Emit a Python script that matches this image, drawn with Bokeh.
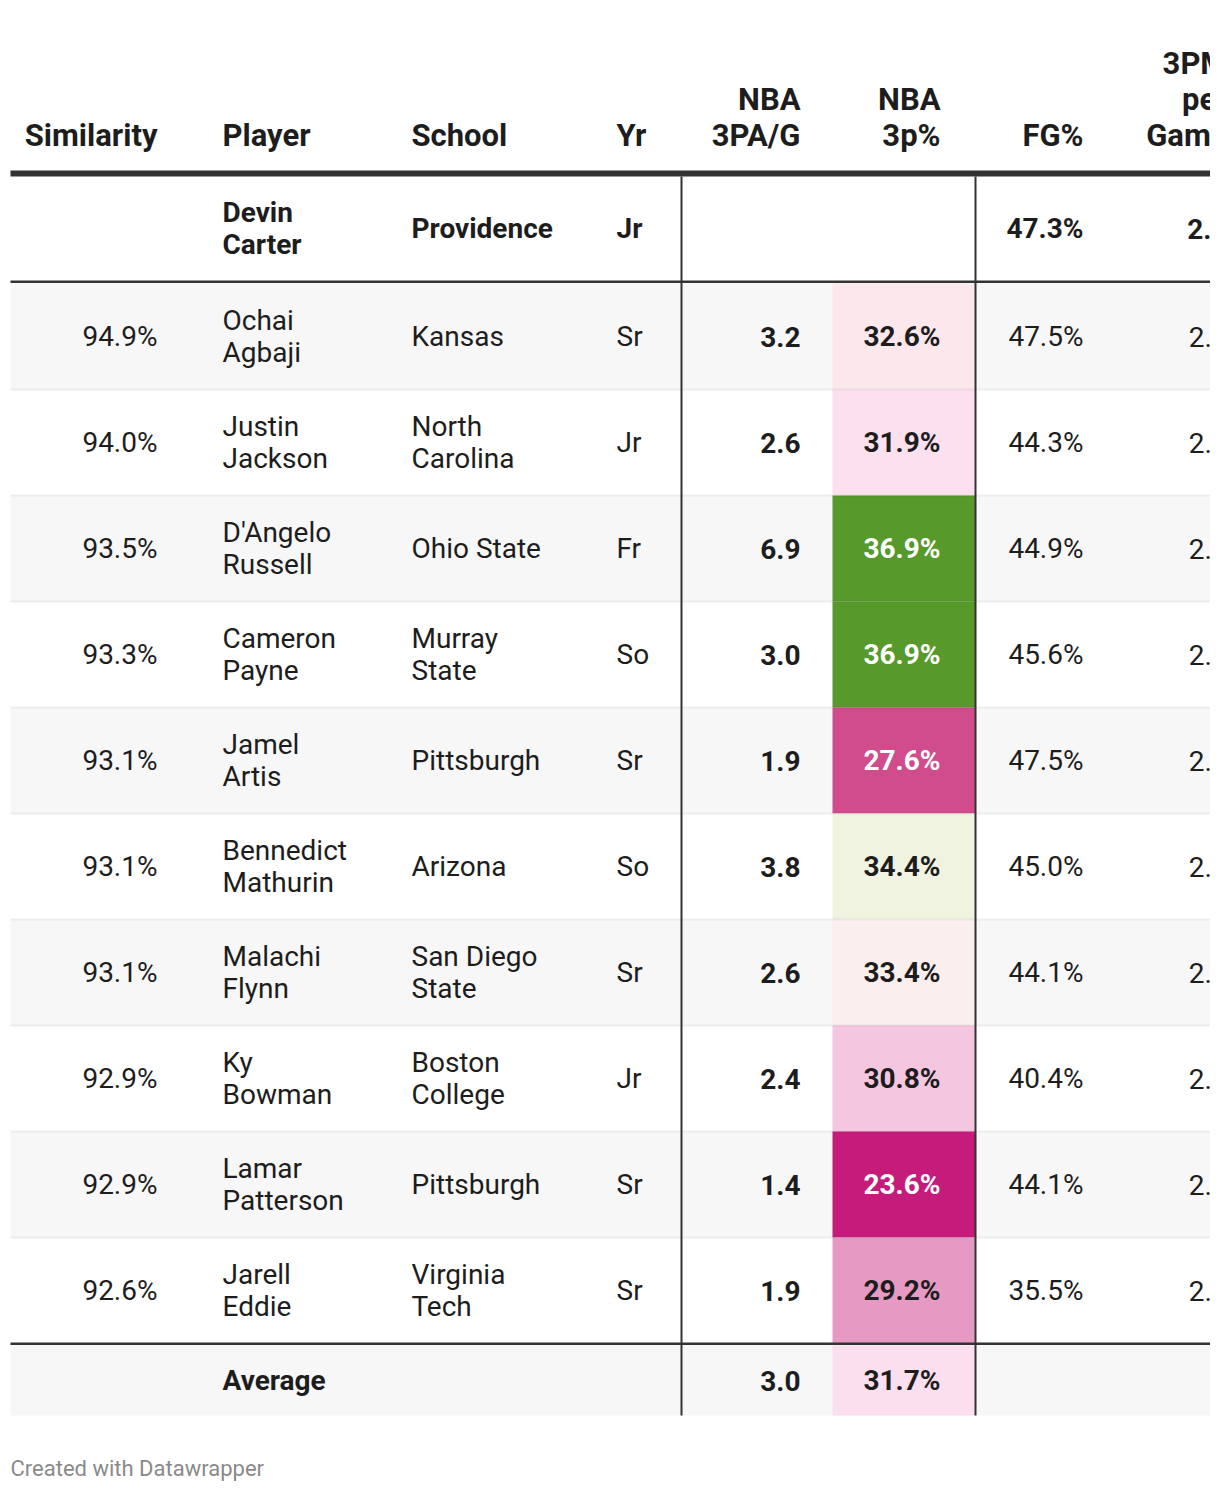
from bokeh.plotting import figure
from bokeh.models import Range1d
from bokeh.core.properties import value
from bokeh.embed import file_html
from bokeh.resources import INLINE

# ---------------- data ----------------
headers = ["Similarity", "Player", "School", "Yr", "NBA 3PA/G", "NBA 3p%", "FG%", "3PM per Game"]

ref_player = "Devin Carter"
ref_school = "Providence"
ref_year = "Jr"
ref_fg = 47.3
ref_3pm = 2.4

similarity = [94.9, 94.0, 93.5, 93.3, 93.1, 93.1, 93.1, 92.9, 92.9, 92.6]
players = ["Ochai Agbaji", "Justin Jackson", "D'Angelo Russell", "Cameron Payne", "Jamel Artis",
           "Bennedict Mathurin", "Malachi Flynn", "Ky Bowman", "Lamar Patterson", "Jarell Eddie"]
schools = ["Kansas", "North Carolina", "Ohio State", "Murray State", "Pittsburgh",
           "Arizona", "San Diego State", "Boston College", "Pittsburgh", "Virginia Tech"]
years = ["Sr", "Jr", "Fr", "So", "Sr", "So", "Sr", "Jr", "Sr", "Sr"]
nba_3pa = [3.2, 2.6, 6.9, 3.0, 1.9, 3.8, 2.6, 2.4, 1.4, 1.9]
nba_3p = [32.6, 31.9, 36.9, 36.9, 27.6, 34.4, 33.4, 30.8, 23.6, 29.2]
fg_pct = [47.5, 44.3, 44.9, 45.6, 47.5, 45.0, 44.1, 40.4, 44.1, 35.5]
threepm = [2.1, 2.3, 2.0, 2.2, 2.0, 2.1, 2.3, 2.2, 2.0, 2.1]

avg_label = "Average"
avg_3pa = 3.0
avg_3p = 31.7

# ---------------- styles ----------------
FONT = value("Roboto")
TXT = "#1d1d1d"
FS = "28px"
HFS = "31px"
cell_colors = {32.6: "#fbe7ec", 31.9: "#fce0ee", 36.9: "#579a2b", 27.6: "#d04c8d",
               34.4: "#f1f3e1", 33.4: "#faefec", 30.8: "#f4c6df", 23.6: "#c51b7b",
               29.2: "#e69ac3", 31.7: "#fcdfee"}
dark_cells = {36.9, 27.6, 23.6}

W, H = 1210, 1492
X0, X1 = 10, W
COL = {"sim": 157, "player": 222, "school": 411, "yr": 616, "pa": 800, "p": 940,
       "fg": 1083, "pm": 1227}
CELL_L, CELL_R = 832, 975
VLINES = [681, 975]
ROW0, ROWH = 283, 106
REF_TOP, REF_BOT = 176, 280
AVG_TOP, AVG_BOT = 1345, 1415
LH = 32

p = figure(width=W, height=H, output_backend="svg", toolbar_location=None,
           x_range=Range1d(0, W), y_range=Range1d(H, 0),
           x_axis_location=None, y_axis_location=None, min_border=0)
p.grid.visible = False
p.outline_line_color = None
p.background_fill_color = "white"
p.border_fill_color = "white"

n = len(players)
tops = [ROW0 + i * ROWH for i in range(n)]
bots = [t + ROWH for t in tops]
mids = [t + ROWH / 2 for t in tops]

# row stripes
stripe_idx = [i for i in range(n) if i % 2 == 0]
p.quad(left=X0, right=X1, top=[tops[i] for i in stripe_idx], bottom=[bots[i] for i in stripe_idx],
       fill_color="#f7f7f7", line_color=None)
p.quad(left=X0, right=X1, top=AVG_TOP, bottom=AVG_BOT, fill_color="#f7f7f7", line_color=None)

# coloured 3p% cells
p.quad(left=CELL_L, right=CELL_R, top=tops, bottom=bots,
       fill_color=[cell_colors[v] for v in nba_3p], line_color=None)
p.quad(left=CELL_L, right=CELL_R, top=AVG_TOP, bottom=AVG_BOT,
       fill_color=cell_colors[avg_3p], line_color=None)

# row separators
p.segment(x0=X0, x1=X1, y0=bots[:-1], y1=bots[:-1], line_color="#000000", line_alpha=0.06, line_width=2)

# heavy rules
p.quad(left=X0, right=X1, top=170, bottom=176, fill_color="#333333", line_color=None)
p.quad(left=X0, right=X1, top=280, bottom=282.5, fill_color="#333333", line_color=None)
p.quad(left=X0, right=X1, top=1342, bottom=1344.5, fill_color="#333333", line_color=None)
for vx in VLINES:
    p.segment(x0=vx, x1=vx, y0=176, y1=AVG_BOT, line_color="#333333", line_width=2)


def txt(x, y, s, align="left", bold=False, color=TXT, size=FS):
    p.text(x=[x], y=[y], text=[s], text_align=align, text_baseline="middle",
           text_font=FONT, text_font_size=size, text_color=color,
           text_font_style="bold" if bold else "normal")


def multiline(x, yc, lines, **kw):
    k = len(lines)
    for j, ln in enumerate(lines):
        txt(x, yc + (j - (k - 1) / 2) * LH, ln, **kw)


def wrap_school(s):
    return [s] if len(s) <= 10 else s.rsplit(" ", 1)


def wrap_player(s):
    return s.split(" ", 1)


# headers (bottom-aligned)
HB = 135
txt(COL["sim"], HB, headers[0], align="right", bold=True, size=HFS)
txt(COL["player"], HB, headers[1], bold=True, size=HFS)
txt(COL["school"], HB, headers[2], bold=True, size=HFS)
txt(COL["yr"], HB, headers[3], bold=True, size=HFS)
for key, h in [("pa", headers[4]), ("p", headers[5]), ("fg", headers[6]), ("pm", headers[7])]:
    parts = h.split(" ")
    for j, part in enumerate(parts):
        txt(COL[key], HB - (len(parts) - 1 - j) * 36, part, align="right", bold=True, size=HFS)

# reference row
ym = (REF_TOP + REF_BOT) / 2
multiline(COL["player"], ym, wrap_player(ref_player), bold=True)
txt(COL["school"], ym, ref_school, bold=True)
txt(COL["yr"], ym, ref_year, bold=True)
txt(COL["fg"], ym, f"{ref_fg:.1f}%", align="right", bold=True)
txt(COL["pm"], ym, f"{ref_3pm:.1f}", align="right", bold=True)

# data rows
for i in range(n):
    y = mids[i]
    txt(COL["sim"], y, f"{similarity[i]:.1f}%", align="right")
    multiline(COL["player"], y, wrap_player(players[i]))
    multiline(COL["school"], y, wrap_school(schools[i]))
    txt(COL["yr"], y, years[i])
    txt(COL["pa"], y, f"{nba_3pa[i]:.1f}", align="right", bold=True)
    txt(COL["p"], y, f"{nba_3p[i]:.1f}%", align="right", bold=True,
        color="white" if nba_3p[i] in dark_cells else TXT)
    txt(COL["fg"], y, f"{fg_pct[i]:.1f}%", align="right")
    txt(COL["pm"], y, f"{threepm[i]:.1f}", align="right")

# average row
ya = (AVG_TOP + AVG_BOT) / 2
txt(COL["player"], ya, avg_label, bold=True)
txt(COL["pa"], ya, f"{avg_3pa:.1f}", align="right", bold=True)
txt(COL["p"], ya, f"{avg_3p:.1f}%", align="right", bold=True)

# footer
txt(10, 1468, "Created with Datawrapper", color="#8a8a8a", size="22px")

open("out.html", "w").write(file_html(p, INLINE))
